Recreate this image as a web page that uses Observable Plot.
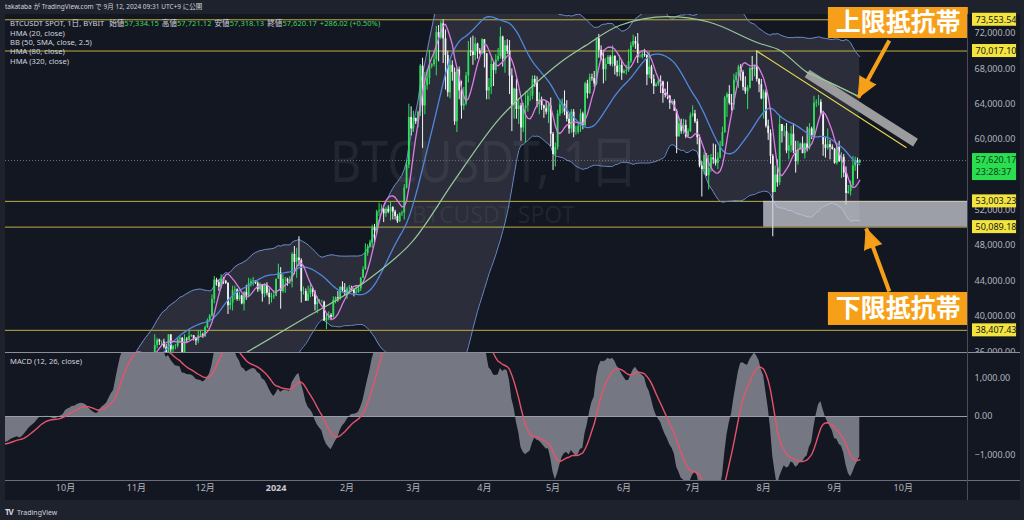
<!DOCTYPE html>
<html><head><meta charset="utf-8">
<script src="https://cdn.jsdelivr.net/npm/d3@7"></script>
<script src="https://cdn.jsdelivr.net/npm/@observablehq/plot@0.6"></script>
<style>
html,body{margin:0;padding:0;background:#1e222d;width:1024px;height:520px;overflow:hidden;font-family:"Noto Sans","Noto Sans CJK JP",sans-serif;}
#root{position:relative;width:1024px;height:520px;}
.abs{position:absolute;white-space:nowrap;}
.lg{font-size:7.6px;line-height:9px;color:#d1d4dc;}
.g{color:#3fd85c;}
.it{margin-left:3px;}
</style></head><body><div id="root"></div>
<script>
// ---- daily closes (thousand USDT), BTCUSDT SPOT, from 2023-07-01 ----
const c2307=[30.6,30.6,31.2,30.8,30.5,29.9,30.3,30.3,30.2,30.4,30.6,30.4,31.5,30.3,30.3,30.2,30.1,29.9,29.8,29.9,29.9,29.8,30.1,29.2,29.3,29.7,29.3,29.3,29.4,29.3,29.2];
const c2308=[29.7,29.2,29.2,29.1,29.1,29.1,29.2,29.8,29.6,29.4,29.4,29.4,29.3,29.4,29.2,28.7,26.6,26.1,26.2,26.1,26.2,26.0,26.5,26.2,26.1,26.0,26.1,26.1,27.7,27.3,25.9];
const c2309=[25.8,25.9,25.9,25.8,25.8,25.8,26.2,25.9,25.9,25.8,25.2,25.8,26.2,26.5,26.6,26.6,26.5,26.8,27.2,27.1,26.6,26.6,26.6,26.3,26.3,26.2,26.4,27.0,26.9,27.0];
const c2310=[28.0,27.5,27.4,27.8,27.4,27.9,27.9,27.9,27.6,27.4,26.9,26.8,26.9,26.9,27.2,28.5,28.4,28.3,28.7,29.7,30.0,30.0,33.0,34.0,34.5,34.2,33.9,34.1,34.5,34.5,34.7];
const c2311=[35.4,34.9,34.7,35.1,35.0,35.0,35.4,35.6,36.7,37.3,37.1,37.1,36.5,35.5,37.9,36.2,36.6,36.6,37.4,37.5,35.8,37.4,37.3,37.7,37.8,37.5,37.2,37.8,37.9,37.7];
const h2311=[35.6,35.9,34.9,35.2,35.4,35.3,35.9,35.9,37.9,37.5,37.4,37.2,37.4,36.8,37.9,37.9,36.7,36.8,37.5,37.7,37.6,37.9,37.6,38.4,37.9,37.8,37.6,38.4,38.4,38.1];
const l2311=[34.3,34.4,34.1,34.6,34.6,34.7,34.5,35.1,35.5,36.3,36.7,36.7,36.3,35.0,35.4,35.6,35.9,36.2,36.4,36.9,35.7,35.6,36.9,37.2,37.6,37.2,36.7,36.9,37.6,37.5];
const c2312=[38.7,39.5,40.0,41.9,44.1,43.8,43.3,44.2,44.0,43.7,41.2,41.5,42.9,43.0,41.9,42.3,41.4,42.7,42.3,43.7,43.9,44.0,43.7,43.0,43.6,42.5,43.5,42.6,42.1,42.2,42.3];
const h2312=[38.9,39.7,40.2,42.4,44.5,44.3,44.1,44.7,44.4,44.0,43.8,42.1,43.4,43.4,43.1,42.7,42.4,42.8,43.5,44.3,44.2,44.4,44.0,43.9,43.8,43.6,43.7,43.8,43.1,42.6,42.9];
const l2312=[37.6,38.6,39.3,39.9,41.4,43.4,42.8,43.1,43.6,43.6,40.2,40.7,40.6,41.8,41.7,41.7,41.3,40.6,41.8,42.2,43.3,43.4,43.6,42.7,42.8,41.6,42.1,42.3,41.3,41.5,41.9];
const c2401=[44.2,44.9,42.8,44.2,44.2,43.9,43.9,47.0,46.1,46.6,46.3,42.8,42.8,41.7,42.5,43.1,42.7,41.3,41.6,41.6,41.6,39.5,39.8,40.1,39.9,41.8,42.1,42.0,43.3,42.9,42.6];
const h2401=[44.2,45.9,45.5,44.7,44.4,44.3,44.5,47.2,47.9,47.7,49.0,46.5,43.3,43.1,43.4,43.6,43.2,42.9,42.2,41.9,41.8,41.7,40.2,40.5,40.3,42.2,42.2,42.8,43.3,43.9,43.7];
const l2401=[42.2,44.2,40.8,42.6,42.6,43.4,43.6,43.2,44.7,44.3,45.6,41.5,42.4,41.7,41.7,42.1,42.2,40.6,40.3,41.4,41.5,39.4,38.5,39.5,39.5,39.8,41.4,41.6,41.8,42.7,42.3];
const c2402=[43.1,43.2,43.0,42.6,42.7,43.1,44.3,45.3,47.1,47.8,48.3,50.0,49.7,51.8,51.9,52.1,51.6,52.1,51.8,52.3,51.8,51.3,50.7,51.6,51.7,54.5,57.1,62.5,61.2];
const h2402=[43.3,43.5,43.4,43.1,43.5,43.4,44.4,45.6,48.2,48.1,48.6,50.3,50.4,52.0,52.8,52.6,52.2,52.3,52.5,52.9,52.4,52.0,51.5,51.7,51.9,54.9,57.6,64.0,63.7];
const l2402=[41.9,42.6,42.9,42.2,42.5,42.6,42.8,44.3,45.2,46.8,47.7,47.7,48.3,49.3,51.3,51.6,50.6,51.2,51.6,50.8,50.9,50.9,50.5,50.6,51.3,50.9,54.4,56.7,60.4];
const c2403=[62.4,62.0,63.1,68.3,63.8,66.1,66.9,68.3,68.5,69.0,72.1,71.5,73.1,71.4,69.5,65.3,68.4,67.6,62.0,67.9,65.5,63.8,64.0,67.2,70.0,69.9,69.5,70.8,70.0,69.7,71.3];
const h2403=[63.2,62.4,63.2,68.5,69.2,67.6,67.9,70.1,68.6,70.0,72.8,72.9,73.4,73.55,72.4,70.0,68.9,68.9,68.1,68.0,68.2,66.6,65.9,67.6,71.1,71.5,71.7,71.5,70.9,70.3,71.4];
const l2403=[60.8,61.7,61.3,62.6,59.0,62.8,65.6,66.2,68.0,68.2,67.2,68.8,71.3,68.6,65.6,64.8,64.6,66.6,61.6,60.8,64.5,62.3,63.3,63.8,66.4,69.4,68.4,68.9,69.1,69.6,69.6];
const c2404=[69.7,65.5,65.9,68.5,67.8,69.0,69.4,71.6,69.1,70.6,70.0,67.2,63.9,65.7,63.4,63.8,61.3,63.5,63.8,64.9,64.9,66.8,66.4,64.3,64.5,63.8,63.5,63.1,63.8,60.6];
const h2404=[71.3,69.7,66.9,69.3,68.7,69.6,70.3,72.7,71.7,71.2,71.3,71.2,68.0,65.8,66.8,64.4,64.1,64.1,65.4,65.4,65.6,67.2,67.2,67.1,65.3,64.8,63.9,64.3,64.2,64.7];
const l2404=[68.1,64.5,64.5,65.1,66.0,67.4,68.8,69.1,68.2,67.5,69.6,65.1,60.9,62.3,62.3,61.7,59.8,60.8,59.6,63.1,64.3,64.5,65.9,63.6,62.8,63.3,62.4,62.8,61.8,59.2];
const c2405=[58.3,59.1,62.9,63.9,64.0,63.1,62.3,61.2,63.1,60.8,60.8,61.5,62.9,61.6,66.3,65.2,67.0,66.9,66.3,71.4,70.1,69.1,67.9,68.5,69.3,68.5,69.4,68.3,67.6,68.4,67.5];
const h2405=[60.8,59.6,63.3,64.5,64.6,65.5,64.4,62.9,63.4,63.4,61.5,61.8,63.4,63.1,66.5,66.7,67.4,67.4,67.7,71.5,71.9,70.6,70.1,69.2,69.5,69.5,70.6,69.5,68.9,69.5,69.0];
const l2405=[56.5,56.9,58.8,62.6,62.9,62.7,62.0,60.6,60.7,60.2,60.5,60.6,60.8,61.1,61.4,64.6,65.1,66.6,65.9,66.1,69.2,68.9,66.3,66.6,68.5,68.3,68.2,67.3,67.1,67.1,66.7];
const c2406=[67.7,67.8,68.8,70.6,71.1,70.8,69.3,69.3,69.6,69.5,67.3,68.2,66.8,66.0,66.2,66.6,66.5,65.2,65.0,64.9,64.1,64.3,63.2,60.3,61.8,60.9,61.6,60.3,60.9,62.7];
const h2406=[67.9,68.4,70.2,71.0,71.8,71.6,72.0,69.6,69.9,70.2,69.6,69.9,68.4,67.3,66.4,66.9,67.2,66.6,65.7,66.5,65.0,64.5,64.5,63.4,62.4,62.3,62.3,62.2,61.2,63.0];
const l2406=[67.4,67.3,67.6,68.6,70.4,70.2,68.6,69.2,69.1,69.3,66.1,66.9,66.3,65.1,65.9,66.0,65.2,64.1,64.7,64.5,63.4,63.9,63.2,58.4,60.3,60.6,60.6,60.1,60.3,60.8];
const c2407=[62.9,62.0,60.2,57.0,56.6,58.2,55.9,56.7,57.9,57.7,57.3,57.9,59.2,60.8,64.7,65.1,64.1,63.9,66.7,67.2,68.2,67.6,65.9,65.4,65.8,68.0,67.9,68.3,66.8,66.2,64.6];
const h2407=[63.8,63.3,62.3,60.5,57.5,58.5,58.4,58.2,58.3,59.5,59.4,58.5,59.8,61.4,64.9,65.3,66.1,65.1,67.4,67.6,68.4,68.5,67.8,67.1,66.1,68.2,69.4,68.3,70.02,66.9,66.8];
const l2407=[62.5,61.8,59.4,56.8,53.5,56.0,55.8,54.3,56.3,57.2,57.0,56.6,57.8,59.2,60.7,62.5,63.9,63.2,63.3,66.4,65.8,66.6,65.5,65.1,63.4,65.7,66.6,67.1,66.5,65.3,64.5];
const c2408=[65.3,61.5,60.7,58.1,54.0,56.0,55.1,61.7,60.9,60.9,58.7,59.3,60.6,58.7,57.5,58.9,59.5,58.4,59.5,59.0,61.2,60.4,64.1,64.2,64.2,62.8,59.4,59.0,59.4,59.1,58.9];
const h2408=[65.6,65.6,62.2,61.1,58.3,57.0,57.7,62.7,61.7,61.5,61.8,60.7,61.5,61.8,59.8,59.8,59.6,60.3,59.6,61.4,61.8,61.4,64.9,64.5,65.0,64.5,63.2,60.2,61.2,59.9,59.4];
const l2408=[62.3,61.3,59.9,57.2,49.0,54.0,54.6,54.8,59.6,60.3,58.4,57.7,58.5,58.4,56.2,57.1,58.8,58.4,57.8,58.6,58.8,60.0,60.4,63.6,63.8,62.8,58.1,57.9,58.8,57.7,58.8];
const c2409=[57.3,59.1,57.5,58.0,56.2,53.9,54.1,54.8,57.0,57.6,57.33415,57.62017];
const h2409=[59.0,59.4,59.8,58.5,58.3,56.9,54.8,55.3,58.1,58.0,57.9,57.72112];
const l2409=[57.2,57.1,57.4,55.6,55.7,52.6,53.8,53.6,54.6,56.4,55.5,57.31813];

// HMA (320)
const hma320Dates=["2023-12-19","2024-01-11","2024-02-11","2024-03-01","2024-03-19","2024-04-07","2024-04-21","2024-05-04","2024-05-15","2024-05-30","2024-06-20","2024-07-08","2024-07-30","2024-08-08","2024-08-20","2024-09-01","2024-09-12"];
const hma320Values=[35900,39400,44300,48600,55400,62200,65800,68700,70600,72900,73900,73300,70900,70100,67600,66200,64800];

// horizontal levels, trend line, zones
const levelValues=[73553.54,70017.10,53003.23,50089.18,38407.43];
const trendDates=["2024-07-29","2024-10-02T06:00"], trendValues=[70017,59100];
const bandDates=["2024-08-20","2024-10-06T08:00"], bandValues=[67470,59650];
const supportDates=["2024-08-01","2024-10-29T12:00"], supportValues=[50089.18,53003.23];
const noteTexts=["上限抵抗帯","下限抵抗帯"];
const noteX=["2024-08-29T07:00","2024-10-29T10:00"];
const noteTop=[74942,42692], noteBottom=[71434,38958];
const arrowFromDates=["2024-09-24T22:00","2024-09-24T22:00"], arrowFromValues=[71208,42805];
const arrowToDates=["2024-09-11T08:00","2024-09-14T19:00"], arrowToValues=[64758,49934];
const priceTicks=[36000,40000,44000,48000,52000,60000,64000,68000,72000];
const macdTicks=[-1000,0,1000];
const monthTickDates=["2023-10-01","2023-11-01","2023-12-01","2024-02-01","2024-03-01","2024-04-01","2024-05-01","2024-06-01","2024-07-01","2024-08-01","2024-09-01","2024-10-01"];
const monthTickLabels=["10月","11月","12月","2月","3月","4月","5月","6月","7月","8月","9月","10月"];
const yearTickDates=["2024-01-01"], yearTickLabels=["2024"];
const lastPrice=57620.17, countdown="23:28:37";

// ---- build series ----
const D=s=>new Date(s.length<=10?s+"T00:00:00Z":s+":00Z");
const closeMonths=[c2307,c2308,c2309,c2310,c2311,c2312,c2401,c2402,c2403,c2404,c2405,c2406,c2407,c2408,c2409];
const highMonths=[null,null,null,null,h2311,h2312,h2401,h2402,h2403,h2404,h2405,h2406,h2407,h2408,h2409];
const lowMonths=[null,null,null,null,l2311,l2312,l2401,l2402,l2403,l2404,l2405,l2406,l2407,l2408,l2409];
const days=[]; let prev=null;
closeMonths.forEach((cs,k)=>{
  const y=2023+Math.floor((6+k)/12), m=(6+k)%12;
  cs.forEach((c,i)=>{
    const close=c*1000, open=prev==null?close:prev;
    const d={date:new Date(Date.UTC(y,m,i+1)),open,close};
    if(highMonths[k]){d.high=Math.max(highMonths[k][i]*1000,open,close);d.low=Math.min(lowMonths[k][i]*1000,open,close);}
    days.push(d); prev=close;
  });
});
const closes=days.map(d=>d.close);
function wma(a,n){const out=a.map(()=>null);const den=n*(n+1)/2;for(let i=n-1;i<a.length;i++){let s=0,ok=true;for(let k=0;k<n;k++){const v=a[i-k];if(v==null){ok=false;break;}s+=(n-k)*v;}if(ok)out[i]=s/den;}return out;}
function hma(a,n){const h=wma(a,Math.floor(n/2)),f=wma(a,n);const diff=a.map((_,i)=>h[i]==null||f[i]==null?null:2*h[i]-f[i]);return wma(diff,Math.floor(Math.sqrt(n)));}
function ema(a,n){const al=2/(n+1);const out=[];let e=null;a.forEach((v,i)=>{e=e==null?v:al*v+(1-al)*e;out.push(e);});return out;}
const h20=hma(closes,20), h80=hma(closes,80);
const e12=ema(closes,12), e26=ema(closes,26);
const macdV=e12.map((v,i)=>v-e26[i]); const sig=ema(macdV,9);
const series=days.map((d,i)=>{
  let upper=null,lower=null;
  if(i>=49){const w=closes.slice(i-49,i+1);const mu=d3.mean(w);const sd=Math.sqrt(d3.mean(w,v=>(v-mu)*(v-mu)));upper=mu+2.5*sd;lower=mu-2.5*sd;}
  return {date:d.date,upper,lower,h20:h20[i],h80:h80[i],macd:macdV[i],signal:sig[i]};
});
const bb=series.filter(d=>d.upper!=null);
const candles=days.filter(d=>d.high!=null);
const hma320=hma320Dates.map((s,i)=>({date:D(s),v:hma320Values[i]}));

// ---- layout constants ----
const X0=new Date(Date.UTC(2023,8,4,19)), X1=new Date(Date.UTC(2024,9,29,12));
const PY0=35900, PY1=74150, pxPerPrice=338/(PY1-PY0);
const gx=dd=>new Date(X1.getTime()+dd*864e5);
const FONT='"Noto Sans","Noto Sans CJK JP",sans-serif';
const UP="#2fe05e", DOWN="#f2f3f5";
const fmt=d3.format(",.2f");

const root=document.getElementById("root");
function add(html,css,cls){const e=document.createElement("div");e.className=cls||"abs";e.style.cssText=css;e.innerHTML=html;root.appendChild(e);return e;}
add("","left:5px;top:14px;width:1015px;height:486px;background:#131722;");
add("BTCUSDT, 1日","left:484px;top:157px;transform:translate(-50%,-50%) scaleX(0.86);font-size:56px;color:rgba(255,255,255,0.065);");
add("BTCUSDT SPOT","left:493px;top:214px;transform:translate(-50%,-50%);font-size:23px;color:rgba(255,255,255,0.065);");

const pricePlot=Plot.plot({
  width:1024,height:352,marginTop:14,marginBottom:0,marginLeft:5,marginRight:56,
  style:{background:"transparent",color:"#b2b5be",fontFamily:FONT,position:"absolute",left:"0px",top:"0px"},
  x:{type:"utc",domain:[X0,X1],axis:null},
  y:{domain:[PY0,PY1],axis:null},
  marks:[
    Plot.areaY(bb,{x:"date",y1:"lower",y2:"upper",fill:"#8a8d99",fillOpacity:0.2,clip:true}),
    Plot.ruleY(levelValues,{stroke:"#bfae45",strokeWidth:1}),
    Plot.ruleY([lastPrice],{stroke:"#6f727c",strokeDasharray:"1,2"}),
    Plot.line(bb,{x:"date",y:"upper",stroke:"#6c8ac6",strokeWidth:1,clip:true}),
    Plot.line(bb,{x:"date",y:"lower",stroke:"#6c8ac6",strokeWidth:1,clip:true}),
    Plot.ruleX(candles,{x:"date",y1:"low",y2:"high",stroke:d=>d.close>=d.open?UP:DOWN,strokeWidth:1,clip:true}),
    Plot.ruleX(candles,{x:"date",y1:"open",y2:"close",stroke:d=>d.close>=d.open?UP:DOWN,strokeWidth:1.8,clip:true}),
    Plot.line(series,{x:"date",y:"h80",stroke:"#4f88de",strokeWidth:1.3,clip:true}),
    Plot.line(series,{x:"date",y:"h20",stroke:"#de7ce6",strokeWidth:1.3,clip:true}),
    Plot.line(hma320,{x:"date",y:"v",stroke:"#98c998",strokeWidth:1.2,curve:"monotone-x",clip:true}),
    Plot.rect([0],{x1:()=>D(supportDates[0]),x2:()=>D(supportDates[1]),y1:()=>supportValues[0],y2:()=>supportValues[1],fill:"#d1d4dc",fillOpacity:0.72}),
    Plot.line(trendDates.map((s,i)=>({date:D(s),v:trendValues[i]})),{x:"date",y:"v",stroke:"#e8d94c",strokeWidth:1.2}),
    Plot.line(bandDates.map((s,i)=>({date:D(s),v:bandValues[i]})),{x:"date",y:"v",stroke:"#9c9c9e",strokeWidth:9,strokeLinecap:"butt"}),
    Plot.line(hma320.filter(d=>d.date>=D("2024-08-20")),{x:"date",y:"v",stroke:"#98c998",strokeWidth:1.2,curve:"monotone-x"}),
    Plot.link([0,1],{x1:i=>D(arrowFromDates[i]),y1:i=>arrowFromValues[i],x2:i=>D(arrowToDates[i]),y2:i=>arrowToValues[i],stroke:"#f6a01a",strokeWidth:4}),
    Plot.rect([0,1],{x1:i=>D(noteX[0]),x2:i=>D(noteX[1]),y1:i=>noteBottom[i],y2:i=>noteTop[i],fill:"#f6a01a"}),
    Plot.text([0,1],{x:i=>new Date((D(noteX[0]).getTime()+D(noteX[1]).getTime())/2),y:i=>(noteTop[i]+noteBottom[i])/2,text:i=>noteTexts[i],fill:"#ffffff",fontSize:25,fontWeight:700,fontFamily:'"Noto Sans CJK JP",sans-serif'}),
    Plot.axisY({anchor:"right",ticks:priceTicks,tickFormat:fmt,tickSize:0,tickPadding:6,fontSize:9}),
    Plot.rect(levelValues,{x1:()=>gx(1.75),x2:()=>gx(21),y1:d=>d-6.5/pxPerPrice,y2:d=>d+6.5/pxPerPrice,fill:"#f3e53d"}),
    Plot.text(levelValues,{x:()=>gx(3.1),y:d=>d,text:fmt,textAnchor:"start",fill:"#131722",fontSize:9}),
    Plot.rect([lastPrice],{x1:()=>gx(1.75),x2:()=>gx(21),y1:d=>d-20/pxPerPrice,y2:d=>d+7/pxPerPrice,fill:"#2ade50"}),
    Plot.text([lastPrice],{x:()=>gx(3.1),y:d=>d,text:fmt,textAnchor:"start",fill:"#0e3d1c",fontSize:9}),
    Plot.text([countdown],{x:()=>gx(3.1),y:()=>lastPrice,dy:12,text:d=>d,textAnchor:"start",fill:"#0e3d1c",fontSize:9})
  ]
});
root.appendChild(pricePlot);

// arrow heads (filled triangles) oriented in screen space
const sx=pricePlot.scale("x"), sy=pricePlot.scale("y");
const headData=[0,1].map(i=>{const ax=sx.apply(D(arrowFromDates[i])),ay=sy.apply(arrowFromValues[i]),bx=sx.apply(D(arrowToDates[i])),by=sy.apply(arrowToValues[i]);return {i,rot:Math.atan2(bx-ax,-(by-ay))*180/Math.PI};});
const heads=Plot.plot({
  width:1024,height:352,marginTop:14,marginBottom:0,marginLeft:5,marginRight:56,
  style:{background:"transparent",position:"absolute",left:"0px",top:"0px"},
  x:{type:"utc",domain:[X0,X1],axis:null},y:{domain:[PY0,PY1],axis:null},
  marks:[Plot.vector(headData,{x:d=>D(arrowToDates[d.i]),y:d=>arrowToValues[d.i],rotate:"rot",length:20,r:9,shape:"spike",anchor:"end",fill:"#f6a01a",stroke:"#f6a01a",strokeWidth:1})]
});
root.appendChild(heads);

const macdPlot=Plot.plot({
  width:1024,height:148,marginTop:0,marginBottom:20,marginLeft:5,marginRight:56,
  style:{background:"transparent",color:"#b2b5be",fontFamily:FONT,position:"absolute",left:"0px",top:"352px"},
  x:{type:"utc",domain:[X0,X1],axis:null},
  y:{domain:[-1662,1662],axis:null},
  marks:[
    Plot.areaY(series,{x:"date",y1:0,y2:"macd",fill:"#7e818b",fillOpacity:0.92,clip:true}),
    Plot.ruleY([0],{stroke:"#9a9da6",strokeWidth:1.2}),
    Plot.line(series,{x:"date",y:"signal",stroke:"#e5546c",strokeWidth:1.4,clip:true}),
    Plot.axisY({anchor:"right",ticks:macdTicks,tickFormat:fmt,tickSize:0,tickPadding:6,fontSize:9}),
    Plot.text(monthTickDates,{x:d=>D(d),text:(d,i)=>monthTickLabels[i],frameAnchor:"bottom",dy:10,fontSize:9,fill:"#b2b5be"}),
    Plot.text(yearTickDates,{x:d=>D(d),text:(d,i)=>yearTickLabels[i],frameAnchor:"bottom",dy:10,fontSize:9,fontWeight:700,fill:"#c8cad1"})
  ]
});
root.appendChild(macdPlot);

// panel separators and axis border
add("","left:5px;top:352px;width:1015px;height:1px;background:#8b8e98;");
add("","left:5px;top:480px;width:1015px;height:1px;background:#6b6e78;");
add("","left:967px;top:14px;width:1px;height:486px;background:#4a4d57;");

// texts
add("takataba が TradingView.com で 9月 12, 2024 09:31 UTC+9 に公開","left:5px;top:2px;font-size:6.5px;line-height:10px;color:#d1d4dc;");
add('BTCUSDT SPOT, 1日, BYBIT <span class="it">始値</span><span class="g">57,334.15</span><span class="it">高値</span><span class="g">57,721.12</span><span class="it">安値</span><span class="g">57,318.13</span><span class="it">終値</span><span class="g">57,620.17</span><span class="g it">+286.02 (+0.50%)</span>',"left:10px;top:19px;","abs lg");
add("HMA (20, close)","left:10px;top:28.5px;","abs lg");
add("BB (50, SMA, close, 2.5)","left:10px;top:38px;","abs lg");
add("HMA (80, close)","left:10px;top:47px;","abs lg");
add("HMA (320, close)","left:10px;top:57px;","abs lg");
add("MACD (12, 26, close)","left:10px;top:357px;","abs lg");
add('<b style="font-size:8px;letter-spacing:-1px">TV</b> <span style="font-size:7px">TradingView</span>',"left:5px;top:504px;line-height:11px;color:#d1d4dc;");
</script></body></html>
